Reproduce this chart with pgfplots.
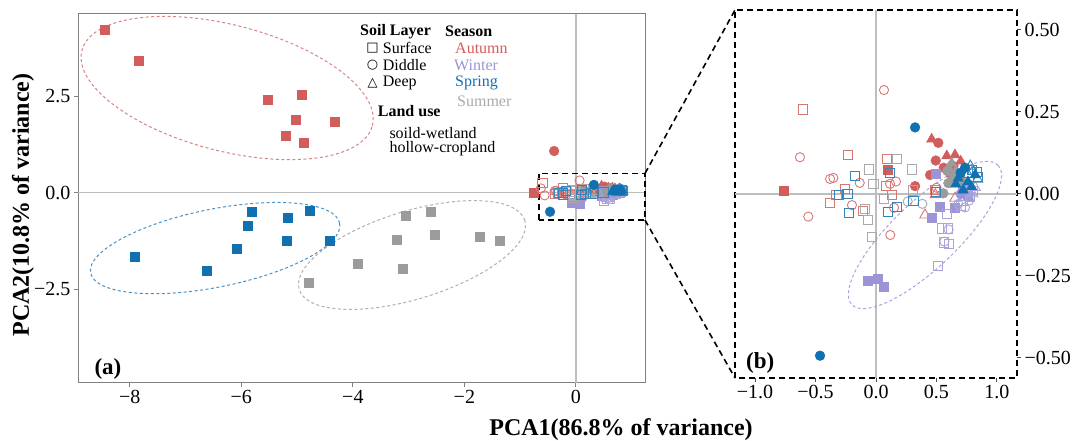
\documentclass[border=0pt]{standalone}
\usepackage{fontspec}
\setmainfont{Liberation Serif}
\newfontfamily\symfont{DejaVu Sans}
\usepackage{pgfplots}
\pgfplotsset{compat=1.18}
\usepackage{pgfplotstable}

\definecolor{autumn}{RGB}{209,94,92}
\definecolor{winter}{RGB}{155,148,213}
\definecolor{spring}{RGB}{16,112,176}
\definecolor{summer}{RGB}{155,155,155}
\definecolor{autumnE}{RGB}{218,130,130}
\definecolor{winterE}{RGB}{168,163,220}
\definecolor{springE}{RGB}{70,145,200}
\definecolor{summerE}{RGB}{175,175,175}
\definecolor{zerol}{RGB}{190,190,190}

\newcommand\tickfont{\fontsize{20}{24}\selectfont}
\newcommand\legfont{\fontsize{16}{19}\selectfont}

\pgfplotstableread{
x y c
-8.46 4.22 sF
-7.85 3.41 sF
-5.52 2.40 sF
-4.91 2.53 sF
-5.02 1.88 sF
-4.32 1.83 sF
-5.20 1.47 sF
-4.89 1.29 sF
-0.761 0.010 sF
0.097 0.073 sF
-0.601 0.258 sO
-0.234 0.118 sO
0.091 0.106 sO
0.080 0.024 sO
-0.254 0.015 sO
-0.328 -0.002 sO
-0.380 -0.028 sO
-0.105 -0.052 sO
0.130 -0.003 sO
0.488 0.012 sO
0.066 0.317 cO
-0.629 0.112 cO
-0.380 0.046 cO
-0.353 0.049 cO
-0.135 0.034 cO
0.116 0.031 cO
0.165 0.038 cO
-0.199 -0.034 cO
-0.560 -0.069 cO
0.149 -0.042 cO
0.118 -0.125 cO
0.500 0.019 cO
0.490 -0.002 tO
0.653 -0.013 tO
0.405 -0.064 tO
-0.39 1.08 cF
0.323 0.024 cF
0.515 0.156 cF
0.494 0.102 cF
0.447 0.058 cF
0.612 0.063 cF
0.620 0.037 cF
0.680 0.051 cF
0.560 0.080 cF
0.640 0.085 cF
0.460 0.167 tF
0.585 0.116 tF
0.653 0.119 tF
0.700 0.100 tF
}\autumndata

\pgfplotstableread{
x y c
-0.066 -0.264 sF
0.017 -0.258 sF
0.064 -0.284 sF
0.494 0.061 sF
0.530 -0.039 sF
0.653 -0.041 sF
0.460 -0.071 sF
0.720 0.020 sF
0.760 -0.005 sF
0.585 -0.061 sO
0.543 -0.105 sO
0.598 -0.105 sO
0.565 -0.148 sO
0.604 -0.153 sO
0.510 -0.219 sO
0.720 -0.020 sO
0.780 -0.010 sO
0.700 -0.035 sO
0.800 0.010 sO
0.736 -0.041 cO
0.600 -0.108 cO
0.565 -0.145 cO
0.770 -0.020 cO
0.680 -0.030 cO
0.760 0.010 tO
0.800 0.000 tO
0.740 -0.010 tO
0.820 0.020 tO
0.700 0.000 cF
}\winterdata

\pgfplotstableread{
x y c
-7.92 -1.67 sF
-6.63 -2.03 sF
-6.08 -1.46 sF
-5.88 -0.86 sF
-5.81 -0.50 sF
-5.16 -0.66 sF
-5.18 -1.25 sF
-4.78 -0.47 sF
-4.41 -1.25 sF
0.113 0.063 sO
-0.174 0.055 sO
-0.309 -0.002 sO
-0.237 0.001 sO
-0.226 -0.058 sO
0.097 -0.054 sO
0.171 -0.040 sO
0.309 -0.021 sO
0.494 0.007 sO
0.790 0.073 sO
0.833 0.068 sO
0.846 0.053 sO
0.800 0.070 tO
0.760 0.060 tO
0.840 0.045 tO
0.780 0.085 tO
0.323 0.203 cF
0.736 0.080 cF
-0.463 -0.493 cF
0.700 0.065 cF
0.680 0.048 tF
0.760 0.037 tF
0.790 0.022 tF
0.720 0.012 tF
0.820 0.058 tF
0.660 0.030 tF
}\springdata

\pgfplotstableread{
x y c
-4.80 -2.34 sF
-3.92 -1.85 sF
-3.21 -1.23 sF
-3.06 -0.60 sF
-3.10 -1.98 sF
-2.60 -0.50 sF
-2.53 -1.10 sF
-1.72 -1.15 sF
-1.36 -1.25 sF
0.171 0.107 sO
-0.060 0.075 sO
-0.022 0.030 sO
-0.091 -0.046 sO
-0.069 -0.080 sO
0.066 -0.015 sO
-0.036 -0.130 sO
0.300 0.075 sO
0.304 0.011 sO
0.262 -0.023 cO
0.383 -0.030 cO
0.557 0.002 cF
0.598 0.033 cF
0.640 0.053 cF
0.700 0.045 cF
0.590 0.070 cF
0.626 0.094 tF
0.660 0.070 tF
0.600 0.080 tF
}\summerdata

\pgfplotsset{
  season/.style={scatter, only marks, scatter src=explicit symbolic,
    scatter/classes={
      sF={mark=square*, draw=#1, fill=#1, mark size=4.5pt},
      sO={mark=square, draw=#1!85!white, mark size=4.6pt, line width=0.9pt},
      cF={mark=*, draw=#1, fill=#1, mark size=4.9pt},
      cO={mark=o, draw=#1!85!white, mark size=4.6pt, line width=0.9pt},
      tF={mark=triangle*, draw=#1, fill=#1, mark size=6pt},
      tO={mark=triangle, draw=#1!85!white, mark size=6pt, line width=0.9pt}}},
}
\tikzset{
  zeroline/.style={draw=zerol, line width=1.4pt},
  ell/.style={draw=#1, line width=1pt, dash pattern=on 3pt off 2.5pt},
  zoomline/.style={draw=black, line width=1.6pt, dash pattern=on 6pt off 4pt},
}

\begin{document}
\begin{tikzpicture}
\useasboundingbox (0pt,0pt) rectangle (1075pt,441pt);

% ---------- panel (a)
\begin{axis}[
  name=A, at={(78pt,58pt)}, anchor=south west,
  scale only axis, width=567pt, height=369pt,
  xmin=-8.93, xmax=1.24, ymin=-4.93, ymax=4.63,
  xtick={-8,-6,-4,-2,0}, xticklabels={−8,−6,−4,−2,0},
  ytick={-2.5,0,2.5}, yticklabels={−2.5,0.0,2.5},
  tick pos=left, tick align=outside, major tick length=4pt,
  axis line style={draw=black!50, line width=1pt},
  every tick/.style={draw=black!50, line width=1pt},
  ticklabel style={font=\tickfont},
  clip=false,
]
\draw[zeroline] (axis cs:0,-4.93) -- (axis cs:0,4.63);
\draw[zeroline] (axis cs:-8.93,0) -- (axis cs:1.24,0);
\draw[ell=autumnE, rotate around={-14.5:(axis cs:-6.255,2.712)}] (axis cs:-6.255,2.712) ellipse [x radius=150pt, y radius=63pt];
\draw[ell=springE, rotate around={11.3:(axis cs:-6.47,-1.435)}] (axis cs:-6.47,-1.435) ellipse [x radius=127pt, y radius=39pt];
\draw[ell=summerE, rotate around={17:(axis cs:-2.939,-1.614)}] (axis cs:-2.939,-1.614) ellipse [x radius=118pt, y radius=44pt];
\addplot[season=autumn] table[x=x,y=y,meta=c] {\autumndata};
\addplot[season=winter] table[x=x,y=y,meta=c] {\winterdata};
\addplot[season=summer] table[x=x,y=y,meta=c] {\summerdata};
\addplot[season=spring] table[x=x,y=y,meta=c] {\springdata};
\draw[zoomline] (axis cs:-0.66,-0.71) rectangle (axis cs:1.24,0.50);
\coordinate (za1) at (axis cs:1.24,0.50);
\coordinate (za2) at (axis cs:1.24,-0.71);
\end{axis}

% ---------- panel (b)
\begin{axis}[
  name=B, at={(735pt,63pt)}, anchor=south west,
  scale only axis, width=282pt, height=368pt,
  xmin=-1.166, xmax=1.166, ymin=-0.561, ymax=0.561,
  xtick={-1,-0.5,0,0.5,1}, xticklabels={−1.0,−0.5,0.0,0.5,1.0},
  ytick={-0.5,-0.25,0,0.25,0.5}, yticklabels={−0.50,−0.25,0.00,0.25,0.50},
  xtick pos=bottom, ytick pos=right, yticklabel pos=right,
  tick align=outside, major tick length=4pt,
  axis line style={draw=black, line width=1.6pt, dash pattern=on 6pt off 4pt},
  every tick/.style={draw=black!70, line width=1pt},
  ticklabel style={font=\tickfont},
]
\draw[zeroline] (axis cs:0,-0.561) -- (axis cs:0,0.561);
\draw[zeroline] (axis cs:-1.166,0) -- (axis cs:1.166,0);
\draw[ell=winterE, rotate around={43.6:(axis cs:0.405,-0.125)}] (axis cs:0.405,-0.125) ellipse [x radius=101pt, y radius=33pt];
\addplot[season=autumn] table[x=x,y=y,meta=c] {\autumndata};
\addplot[season=winter] table[x=x,y=y,meta=c] {\winterdata};
\addplot[season=summer] table[x=x,y=y,meta=c] {\summerdata};
\addplot[season=spring] table[x=x,y=y,meta=c] {\springdata};
\end{axis}

\draw[zoomline] (za1) -- (B.north west);
\draw[zoomline] (za2) -- (B.south west);

% ---------- legend
\node[anchor=west, font=\legfont\bfseries, inner sep=0pt] at (360pt,409.3pt) {Soil Layer};
\node[anchor=west, font=\legfont\bfseries, inner sep=0pt] at (445pt,409.3pt) {Season};
\node[font=\symfont\fontsize{13}{15}\selectfont, inner sep=0pt] at (372.5pt,393pt) {□};
\node[font=\symfont\fontsize{13}{15}\selectfont, inner sep=0pt] at (372.5pt,376pt) {○};
\node[font=\symfont\fontsize{13}{15}\selectfont, inner sep=0pt] at (372.5pt,358pt) {△};
\node[anchor=west, font=\legfont, inner sep=0pt] at (382.7pt,393pt) {Surface};
\node[anchor=west, font=\legfont, inner sep=0pt] at (382.7pt,376pt) {Diddle};
\node[anchor=west, font=\legfont, inner sep=0pt] at (382.7pt,358pt) {Deep};
\node[anchor=west, font=\legfont, inner sep=0pt, text=autumn] at (455pt,393pt) {Autumn};
\node[anchor=west, font=\legfont, inner sep=0pt, text=winter] at (454pt,376pt) {Winter};
\node[anchor=west, font=\legfont, inner sep=0pt, text=spring] at (455pt,358pt) {Spring};
\node[anchor=west, font=\legfont, inner sep=0pt, text=summer!85] at (457pt,340pt) {Summer};
\node[anchor=west, font=\legfont\bfseries, inner sep=0pt] at (377.7pt,330pt) {Land use};
\node[anchor=west, font=\legfont, inner sep=0pt] at (389.3pt,308.3pt) {soild-wetland};
\node[anchor=west, font=\legfont, inner sep=0pt] at (389.3pt,292pt) {hollow-cropland};

% ---------- panel labels and axis titles
\node[anchor=west, font=\fontsize{23}{27}\selectfont\bfseries, inner sep=0pt] at (94.3pt,71.7pt) {(a)};
\node[anchor=west, font=\fontsize{23}{27}\selectfont\bfseries, inner sep=0pt] at (746pt,77.7pt) {(b)};
\node[anchor=base, font=\fontsize{24}{28}\selectfont\bfseries, inner sep=0pt] at (621pt,5pt) {PCA1(86.8\% of variance)};
\node[rotate=90, font=\fontsize{24}{28}\selectfont\bfseries, inner sep=0pt] at (23pt,236pt) {PCA2(10.8\% of variance)};
\end{tikzpicture}
\end{document}
